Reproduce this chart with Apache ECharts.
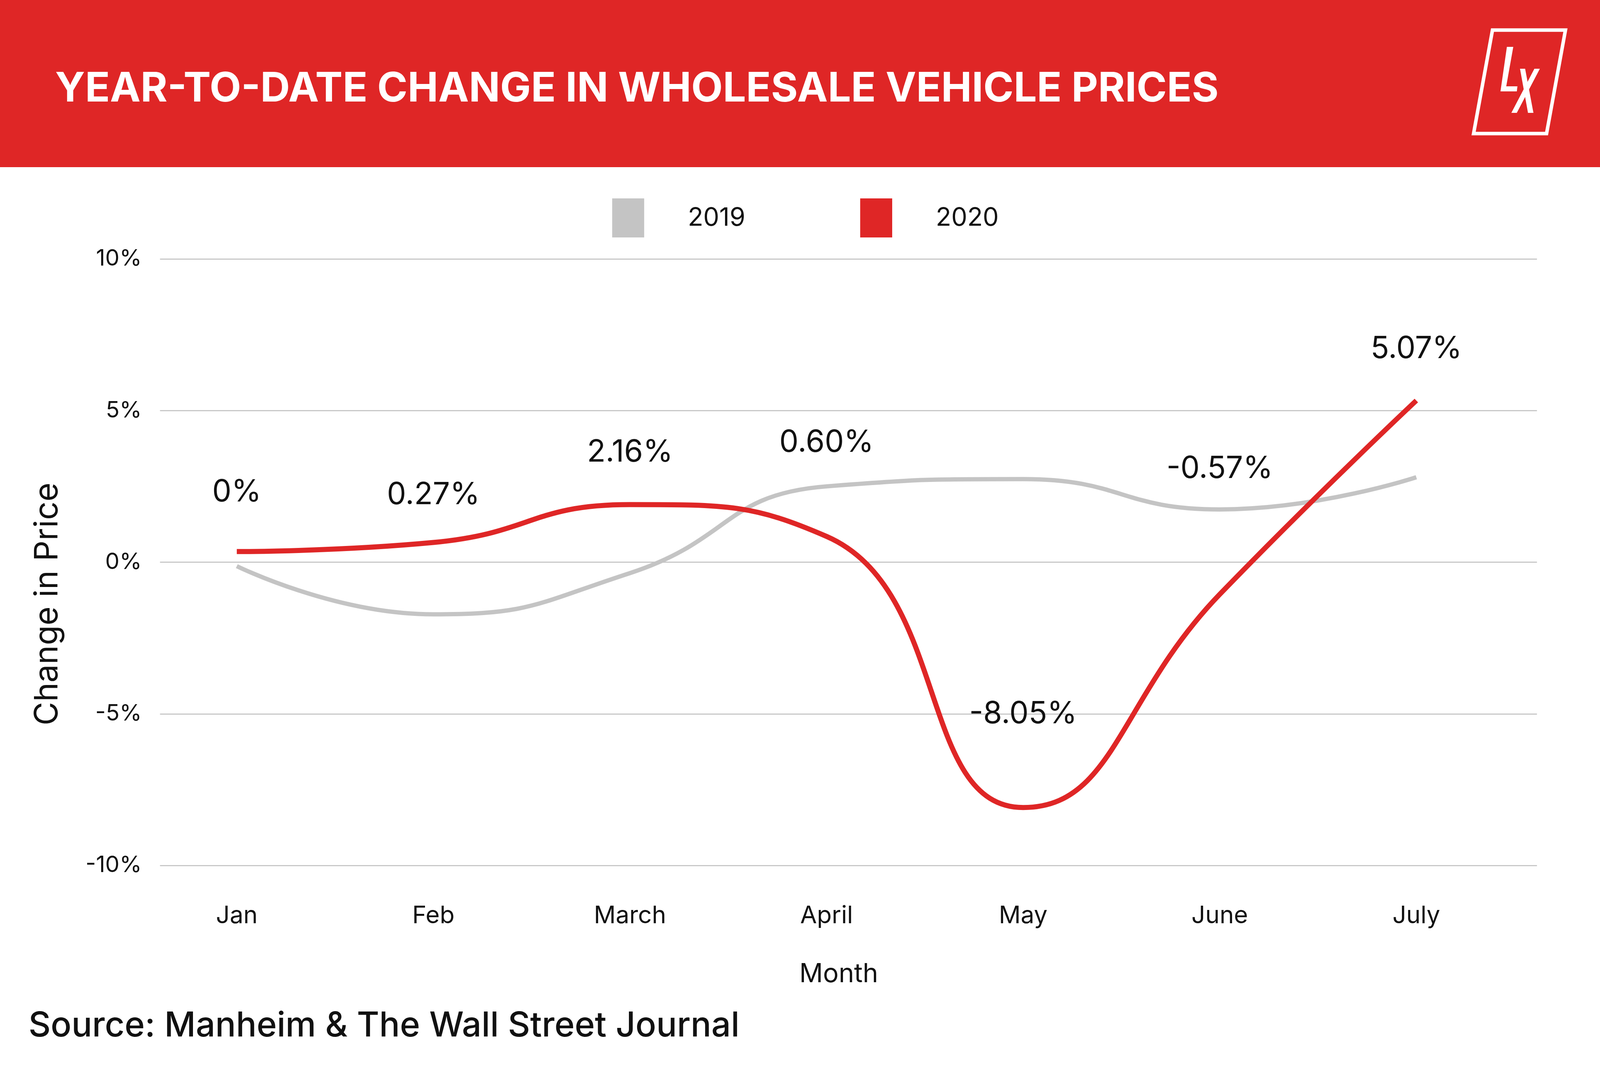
<!DOCTYPE html>
<html>
<head>
<meta charset="utf-8">
<script src="https://cdn.jsdelivr.net/npm/echarts@6/dist/echarts.min.js"></script>
<style>
html, body { margin: 0; padding: 0; background: #fff; overflow: hidden; }
#main { width: 100vw; height: 100vh; }
</style>
</head>
<body>
<div id="main"></div>
<script>
var months = ['Jan', 'Feb', 'March', 'April', 'May', 'June', 'July'];
var prices2019 = [-0.13, -1.72, -0.36, 2.50, 2.74, 1.74, 2.80];
var prices2020 = [0.35, 0.65, 1.90, 0.85, -8.09, -1.06, 5.33];
// labels printed on the chart (they do not sit exactly on the line)
var labels2020 = ['0%', '0.27%', '2.16%', '0.60%', '-8.05%', '-0.57%', '5.07%'];
var labelLevels2020 = [2.30, 2.22, 3.62, 3.94, -5.01, 3.08, 7.03];

var RED = '#DF2626';
var GREY = '#C4C4C4';
var FONT = 'Inter, "DejaVu Sans", sans-serif';

var W = window.innerWidth, H = window.innerHeight;
// layout was measured on a 5000 x 2727 picture, scale it to the real window
var sx = W / 5000, sy = H / 2727, k = (sx + sy) / 2;
function X(v) { return v * sx; }
function Y(v) { return v * sy; }
function F(v) { return Math.round(v * k); }

var chart = echarts.init(document.getElementById('main'));

var legendText = {
    fontFamily: FONT,
    fontSize: F(72),
    color: '#111',
    padding: [0, 0, 0, X(130)]
};

chart.setOption({
    backgroundColor: '#fff',
    animation: false,
    legend: [
        {
            data: ['2019'], left: X(1907), top: Y(503), icon: 'rect',
            itemWidth: X(100), itemHeight: Y(100), textStyle: legendText
        },
        {
            data: ['2020'], left: X(2682), top: Y(503), icon: 'rect',
            itemWidth: X(100), itemHeight: Y(100), textStyle: legendText
        }
    ],
    grid: [
        // wide grid only carries the gridlines and y labels
        { left: X(500), right: W - X(4803), top: Y(663), bottom: H - Y(2216) },
        // narrow grid where the months sit
        { left: X(740), right: W - X(4426), top: Y(663), bottom: H - Y(2216) }
    ],
    xAxis: [
        { gridIndex: 0, type: 'value', show: false, min: 0, max: 1 },
        {
            gridIndex: 1,
            type: 'category',
            data: months,
            boundaryGap: false,
            axisLine: { show: false },
            axisTick: { show: false },
            axisLabel: {
                margin: Y(98),
                fontFamily: FONT,
                fontSize: F(68),
                color: '#111'
            },
            name: 'Month',
            nameLocation: 'middle',
            nameGap: Y(245),
            nameTextStyle: {
                fontFamily: FONT,
                fontSize: F(74),
                color: '#111',
                padding: [0, 0, 0, X(76)]
            }
        }
    ],
    yAxis: [
        {
            gridIndex: 0,
            type: 'value',
            min: -10,
            max: 10,
            interval: 5,
            axisLine: { show: false },
            axisTick: { show: false },
            axisLabel: {
                margin: X(57),
                fontFamily: FONT,
                fontSize: F(64),
                color: '#111',
                formatter: '{value}%'
            },
            splitLine: { lineStyle: { color: '#C8C8C8', width: 3 } },
            name: 'Change in Price',
            nameLocation: 'middle',
            nameRotate: 90,
            nameGap: X(300),
            nameTextStyle: {
                fontFamily: FONT,
                fontSize: Math.round(Y(83)),
                color: '#111',
                padding: [0, Y(214), 0, 0]
            }
        },
        {
            gridIndex: 1,
            type: 'value',
            min: -10,
            max: 10,
            show: false
        }
    ],
    series: [
        {
            name: '2019',
            type: 'line',
            xAxisIndex: 1,
            yAxisIndex: 1,
            data: prices2019,
            smooth: 0.5,
            showSymbol: false,
            itemStyle: { color: GREY },
            lineStyle: { color: GREY, width: F(12) }
        },
        {
            name: '2020',
            type: 'line',
            xAxisIndex: 1,
            yAxisIndex: 1,
            data: prices2020,
            smooth: 0.5,
            showSymbol: false,
            itemStyle: { color: RED },
            lineStyle: { color: RED, width: F(14) }
        },
        {
            name: 'labels',
            type: 'scatter',
            xAxisIndex: 1,
            yAxisIndex: 1,
            data: labelLevels2020,
            symbolSize: 0,
            silent: true,
            itemStyle: { opacity: 1 },
            label: {
                show: true,
                position: 'inside',
                fontFamily: FONT,
                fontSize: F(86),
                color: '#111',
                opacity: 1,
                formatter: function (p) { return labels2020[p.dataIndex]; }
            }
        }
    ],
    graphic: [
        {
            type: 'rect',
            shape: { x: 0, y: 0, width: W, height: Y(428) },
            style: { fill: RED },
            z: -1
        },
        {
            type: 'text',
            x: X(172),
            y: Y(228),
            style: {
                text: 'YEAR-TO-DATE CHANGE IN WHOLESALE VEHICLE PRICES',
                fill: '#fff',
                font: 'bold ' + Math.round(X(128)) + 'px ' + FONT,
                textVerticalAlign: 'middle',
                verticalAlign: 'middle'
            }
        },
        // LX logo
        {
            type: 'polygon',
            shape: { points: [[X(4664), Y(77)], [X(4892), Y(77)], [X(4833), Y(342)], [X(4605), Y(342)]] },
            style: { fill: 'none', stroke: '#fff', lineWidth: F(10) }
        },
        {
            type: 'polygon',
            shape: { points: [[X(4709), Y(120)], [X(4729), Y(120)], [X(4707), Y(221)], [X(4742), Y(221)], [X(4740), Y(234)], [X(4689), Y(234)]] },
            style: { fill: '#fff' }
        },
        {
            type: 'polygon',
            shape: { points: [[X(4750), Y(176)], [X(4766), Y(176)], [X(4792), Y(289)], [X(4775), Y(289)]] },
            style: { fill: '#fff' }
        },
        {
            type: 'polygon',
            shape: { points: [[X(4795), Y(176)], [X(4812), Y(176)], [X(4740), Y(289)], [X(4723), Y(289)]] },
            style: { fill: '#fff' }
        },
        {
            type: 'text',
            x: X(89),
            y: Y(2628),
            style: {
                text: 'Source: Manheim & The Wall Street Journal',
                fill: '#111',
                font: '500 ' + Math.round(X(108)) + 'px ' + FONT,
                textVerticalAlign: 'middle',
                verticalAlign: 'middle'
            }
        }
    ]
});
</script>
</body>
</html>
